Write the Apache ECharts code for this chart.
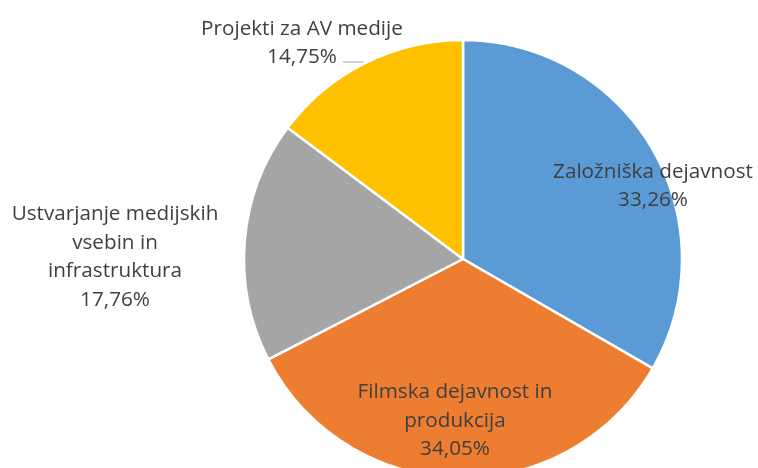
<!DOCTYPE html>
<html>
<head>
<meta charset="utf-8">
<script src="https://cdn.jsdelivr.net/npm/echarts@6/dist/echarts.min.js"></script>
<style>html,body{margin:0;padding:0;background:#fff}#c{width:758px;height:468px}</style>
</head>
<body>
<div id="c"></div>
<script>
const categories = ["Založniška dejavnost", "Filmska dejavnost in\nprodukcija", "Ustvarjanje medijskih\nvsebin in\ninfrastruktura", "Projekti za AV medije"];
const values = [33.26, 34.05, 17.76, 14.75];
const colors = ["#5B9BD5", "#ED7D31", "#A5A5A5", "#FFC000"];

const labelPos = [[653, 186], [455, 421], [115, 257], [302, 43]];

const chart = echarts.init(document.getElementById('c'));
chart.setOption({
  animation: false,
  series: [{
    type: 'pie',
    center: [463, 259],
    radius: 219,
    startAngle: 90,
    clockwise: true,
    data: categories.map((c, i) => ({
      name: c, value: values[i],
      itemStyle: { color: colors[i] },
      labelLine: { show: i === 3, lineStyle: { color: '#A6A6A6', width: 1 } }
    })),
    itemStyle: { borderColor: '#fff', borderWidth: 2.5 },
    label: {
      show: true,
      position: 'outside',
      formatter: p => p.name + '\n' + p.value.toFixed(2).replace('.', ',') + '%',
      fontFamily: 'Open Sans',
      fontSize: 20.7,
      lineHeight: 28.5,
      color: '#404040',
      align: 'center',
      overflow: 'none',
      width: 400
    },
    labelLine: { show: false },
    labelLayout: function (params) {
      const i = params.dataIndex;
      const p = labelPos[i];
      const r = { x: p[0], y: p[1], align: 'center', verticalAlign: 'middle' };
      if (i === 3) r.labelLinePoints = [[364, 62], [354, 62], [343, 62]];
      return r;
    }
  }]
});
</script>
</body>
</html>
